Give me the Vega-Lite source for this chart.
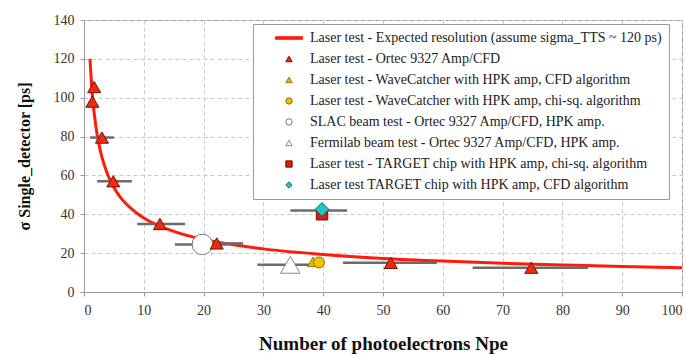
{
  "$schema": "https://vega.github.io/schema/vega-lite/v6.json",
  "width": 598,
  "height": 272,
  "autosize": {"type": "none"},
  "padding": {"left": 84, "top": 20, "right": 4, "bottom": 62},
  "background": "white",
  "config": {
    "font": "Liberation Serif",
    "view": {"stroke": "#999", "strokeWidth": 1},
    "axis": {
      "labelFont": "Liberation Serif",
      "labelFontSize": 14,
      "labelColor": "#333",
      "labelOverlap": false,
      "titleFont": "Liberation Serif",
      "titleFontWeight": "bold",
      "titleColor": "#111",
      "domainColor": "#999",
      "tickColor": "#999",
      "tickSize": 4,
      "gridColor": "#c8c8c8",
      "gridDash": [4, 3],
      "gridWidth": 1
    },
    "legend": {
      "labelFont": "Liberation Serif", "labelFontSize": 14, "labelColor": "#222", "labelLimit": 450,
      "symbolSize": 40, "symbolStrokeWidth": 1, "symbolOffset": 22, "labelOffset": 14, "rowPadding": 7,
      "padding": 7, "fillColor": "white", "strokeColor": "#999"
    }
  },
  "layer": [
    {
      "data": {"values": [
        {"npe": 1, "sigma": 120.0}, {"npe": 1.25, "sigma": 107.4}, {"npe": 1.5, "sigma": 98.0},
        {"npe": 2, "sigma": 84.9}, {"npe": 2.5, "sigma": 76.0}, {"npe": 3, "sigma": 69.4},
        {"npe": 4, "sigma": 60.1}, {"npe": 5, "sigma": 53.8}, {"npe": 6, "sigma": 49.1},
        {"npe": 8, "sigma": 42.6}, {"npe": 10, "sigma": 38.1}, {"npe": 12, "sigma": 34.8},
        {"npe": 15, "sigma": 31.2}, {"npe": 20, "sigma": 27.0}, {"npe": 25, "sigma": 24.3},
        {"npe": 30, "sigma": 22.2}, {"npe": 40, "sigma": 19.3}, {"npe": 50, "sigma": 17.3},
        {"npe": 60, "sigma": 15.9}, {"npe": 70, "sigma": 14.8}, {"npe": 80, "sigma": 13.9},
        {"npe": 90, "sigma": 13.1}, {"npe": 100, "sigma": 12.5}
      ]},
      "mark": {"type": "line", "color": "#ff1a0a", "strokeWidth": 3, "interpolate": "monotone"},
      "encoding": {
        "x": {"field": "npe", "type": "quantitative",
              "scale": {"domain": [0, 100], "nice": false},
              "axis": {"title": "Number of photoelectrons Npe", "values": [0,10,20,30,40,50,60,70,80,90,100], "labelOverlap": false, "labelPadding": 7, "titlePadding": 17, "titleFontSize": 19}},
        "y": {"field": "sigma", "type": "quantitative",
              "scale": {"domain": [0, 140], "nice": false},
              "axis": {"title": "σ Single_detector  [ps]", "values": [0,20,40,60,80,100,120,140], "labelOverlap": false, "labelPadding": 6, "titlePadding": 21, "titleFontSize": 16}}
      }
    },
    {
      "data": {"values": [
        {"lo": 1, "hi": 5, "sigma": 79.5},
        {"lo": 2.2, "hi": 8, "sigma": 57},
        {"lo": 8.9, "hi": 16.9, "sigma": 35},
        {"lo": 21.6, "hi": 26.6, "sigma": 25},
        {"lo": 15.2, "hi": 24, "sigma": 24.5},
        {"lo": 43.3, "hi": 59, "sigma": 15},
        {"lo": 65, "hi": 84.3, "sigma": 12.5},
        {"lo": 29, "hi": 38.5, "sigma": 14},
        {"lo": 34.5, "hi": 44, "sigma": 42}
      ]},
      "mark": {"type": "rule", "color": "#6b6b6b", "strokeWidth": 2.5},
      "encoding": {
        "x": {"field": "lo", "type": "quantitative",
              "axis": {"title": "Number of photoelectrons Npe", "values": [0,10,20,30,40,50,60,70,80,90,100], "labelOverlap": false, "labelPadding": 7, "titlePadding": 17, "titleFontSize": 19}},
        "x2": {"field": "hi"},
        "y": {"field": "sigma", "type": "quantitative",
              "axis": {"title": "σ Single_detector  [ps]", "values": [0,20,40,60,80,100,120,140], "labelOverlap": false, "labelPadding": 6, "titlePadding": 21, "titleFontSize": 16}}
      }
    },
    {
      "data": {"values": [
        {"series": "Laser test - Ortec 9327 Amp/CFD", "npe": 1.7, "sigma": 105.5},
        {"series": "Laser test - Ortec 9327 Amp/CFD", "npe": 1.4, "sigma": 98},
        {"series": "Laser test - Ortec 9327 Amp/CFD", "npe": 3, "sigma": 79.5},
        {"series": "Laser test - Ortec 9327 Amp/CFD", "npe": 4.9, "sigma": 57},
        {"series": "Laser test - Ortec 9327 Amp/CFD", "npe": 12.7, "sigma": 35},
        {"series": "Laser test - Ortec 9327 Amp/CFD", "npe": 22.2, "sigma": 25},
        {"series": "Laser test - Ortec 9327 Amp/CFD", "npe": 51.3, "sigma": 15},
        {"series": "Laser test - Ortec 9327 Amp/CFD", "npe": 74.8, "sigma": 12.5},
        {"series": "Laser test - WaveCatcher with HPK amp, CFD algorithm", "npe": 38.3, "sigma": 15.5},
        {"series": "Laser test - WaveCatcher with HPK amp, chi-sq. algorithm", "npe": 39.3, "sigma": 15.2},
        {"series": "SLAC beam test - Ortec 9327 Amp/CFD, HPK amp.", "npe": 19.8, "sigma": 24.5},
        {"series": "Fermilab beam test - Ortec 9327 Amp/CFD, HPK amp.", "npe": 34.5, "sigma": 14},
        {"series": "Laser test - TARGET chip with HPK amp, chi-sq. algorithm", "npe": 39.8, "sigma": 40},
        {"series": "Laser test TARGET chip with HPK amp, CFD algorithm", "npe": 39.8, "sigma": 42.5}
      ]},
      "encoding": {
        "x": {"field": "npe", "type": "quantitative",
              "axis": {"title": "Number of photoelectrons Npe", "values": [0,10,20,30,40,50,60,70,80,90,100], "labelOverlap": false, "labelPadding": 7, "titlePadding": 17, "titleFontSize": 19}},
        "y": {"field": "sigma", "type": "quantitative",
              "axis": {"title": "σ Single_detector  [ps]", "values": [0,20,40,60,80,100,120,140], "labelOverlap": false, "labelPadding": 6, "titlePadding": 21, "titleFontSize": 16}},
        "fill": {"field": "series", "type": "nominal",
          "scale": {
            "domain": ["Laser test - Expected resolution (assume sigma_TTS ~ 120 ps)", "Laser test - Ortec 9327 Amp/CFD", "Laser test - WaveCatcher with HPK amp, CFD algorithm", "Laser test - WaveCatcher with HPK amp, chi-sq. algorithm", "SLAC beam test - Ortec 9327 Amp/CFD, HPK amp.", "Fermilab beam test - Ortec 9327 Amp/CFD, HPK amp.", "Laser test - TARGET chip with HPK amp, chi-sq. algorithm", "Laser test TARGET chip with HPK amp, CFD algorithm"],
            "range": ["#ff1a0a", "#f02a10", "#e8b800", "#f2c200", "#ffffff", "#ffffff", "#dd1a0a", "#22c4c4"]
          },
          "legend": {"title": null, "orient": "none", "legendX": 169, "legendY": 4, "labelFont": "Liberation Serif", "labelFontSize": 14}
        },
        "stroke": {"field": "series", "type": "nominal",
          "scale": {
            "domain": ["Laser test - Expected resolution (assume sigma_TTS ~ 120 ps)", "Laser test - Ortec 9327 Amp/CFD", "Laser test - WaveCatcher with HPK amp, CFD algorithm", "Laser test - WaveCatcher with HPK amp, chi-sq. algorithm", "SLAC beam test - Ortec 9327 Amp/CFD, HPK amp.", "Fermilab beam test - Ortec 9327 Amp/CFD, HPK amp.", "Laser test - TARGET chip with HPK amp, chi-sq. algorithm", "Laser test TARGET chip with HPK amp, CFD algorithm"],
            "range": ["#ff1a0a", "#7a1000", "#8a7a00", "#8a7000", "#777777", "#888888", "#7a1000", "#1a6a6a"]
          },
          "legend": {"title": null, "orient": "none", "legendX": 169, "legendY": 4, "labelFont": "Liberation Serif", "labelFontSize": 14}
        },
        "shape": {"field": "series", "type": "nominal",
          "scale": {
            "domain": ["Laser test - Expected resolution (assume sigma_TTS ~ 120 ps)", "Laser test - Ortec 9327 Amp/CFD", "Laser test - WaveCatcher with HPK amp, CFD algorithm", "Laser test - WaveCatcher with HPK amp, chi-sq. algorithm", "SLAC beam test - Ortec 9327 Amp/CFD, HPK amp.", "Fermilab beam test - Ortec 9327 Amp/CFD, HPK amp.", "Laser test - TARGET chip with HPK amp, chi-sq. algorithm", "Laser test TARGET chip with HPK amp, CFD algorithm"],
            "range": ["M-4.3,-0.4H4.3V0.4H-4.3Z", "triangle-up", "triangle-up", "circle", "circle", "triangle-up", "square", "diamond"]
          },
          "legend": {"title": null, "orient": "none", "legendX": 169, "legendY": 4, "labelFont": "Liberation Serif", "labelFontSize": 14}
        }
      },
      "layer": [
        {"transform": [{"filter": {"field": "series", "equal": "SLAC beam test - Ortec 9327 Amp/CFD, HPK amp."}}],
         "mark": {"type": "point", "filled": true, "opacity": 1, "strokeWidth": 1, "size": 420}},
        {"transform": [{"filter": {"field": "series", "equal": "Fermilab beam test - Ortec 9327 Amp/CFD, HPK amp."}}],
         "mark": {"type": "point", "filled": true, "opacity": 1, "strokeWidth": 1, "size": 380}},
        {"transform": [{"filter": {"field": "series", "equal": "Laser test - Ortec 9327 Amp/CFD"}}],
         "mark": {"type": "point", "filled": true, "opacity": 1, "strokeWidth": 1, "size": 170}},
        {"transform": [{"filter": {"field": "series", "equal": "Laser test - WaveCatcher with HPK amp, CFD algorithm"}}],
         "mark": {"type": "point", "filled": true, "opacity": 1, "strokeWidth": 1, "size": 120}},
        {"transform": [{"filter": {"field": "series", "equal": "Laser test - WaveCatcher with HPK amp, chi-sq. algorithm"}}],
         "mark": {"type": "point", "filled": true, "opacity": 1, "strokeWidth": 1, "size": 120}},
        {"transform": [{"filter": {"field": "series", "equal": "Laser test - TARGET chip with HPK amp, chi-sq. algorithm"}}],
         "mark": {"type": "point", "filled": true, "opacity": 1, "strokeWidth": 1, "size": 130}},
        {"transform": [{"filter": {"field": "series", "equal": "Laser test TARGET chip with HPK amp, CFD algorithm"}}],
         "mark": {"type": "point", "filled": true, "opacity": 1, "strokeWidth": 1, "size": 190}}
      ]
    }
  ]
}
